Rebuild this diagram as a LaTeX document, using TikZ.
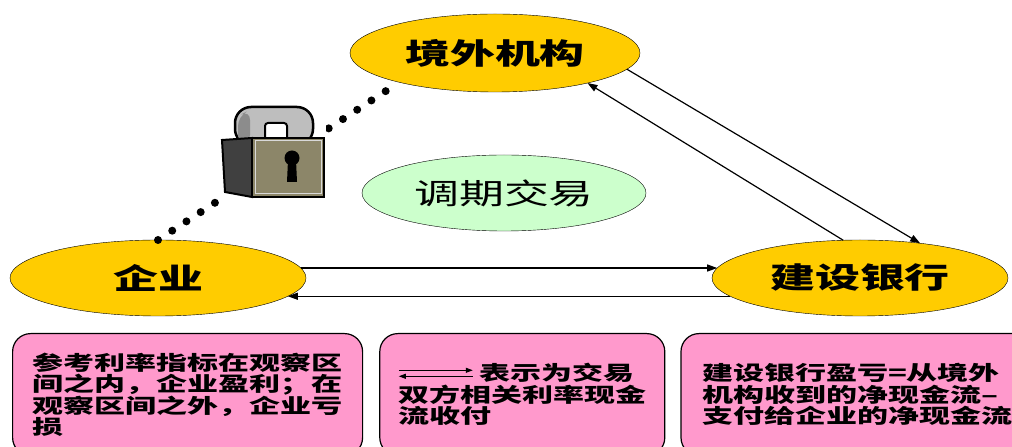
\documentclass[tikz,border=0pt]{standalone}
\usepackage{fontspec}
\newfontfamily\cjk[FakeStretch=1.55]{Noto Sans CJK SC}
\usetikzlibrary{positioning, arrows.meta, shapes.geometric}

\definecolor{gold}{HTML}{FFCC00}
\definecolor{mint}{HTML}{CCFFCC}
\definecolor{rose}{HTML}{FF99CC}
\definecolor{khaki}{HTML}{8C8669}
\definecolor{steel}{HTML}{BEBEBE}

% 双向小箭头（图例用）
\newcommand{\pairarrow}{%
  \tikz[baseline=-7.5pt, x=1pt, y=1pt, line width=1pt]{%
    \draw[-{Triangle[length=7pt,width=5pt]}] (0,3) -- (74,3);
    \draw[{Triangle[length=7pt,width=5pt]}-] (0,-3) -- (74,-3);}}

\begin{document}
\begin{tikzpicture}[
    x=1pt, y=1pt,
    party/.style={draw, ellipse, fill=gold, inner sep=0pt, outer sep=0pt,
        minimum width=296pt, minimum height=76pt,
        font=\cjk\bfseries\fontsize{29}{29}\selectfont},
    deal/.style={party, fill=mint, minimum width=284pt,
        font=\cjk\fontsize{29}{29}\selectfont},
    note/.style={draw, fill=rose, rounded corners=18pt, line width=1.2pt,
        align=left, minimum height=122pt,
        font=\cjk\bfseries\fontsize{20}{21.5}\selectfont},
    flow/.style={-{Triangle[length=10pt,width=7pt]}, line width=1.2pt},
    link/.style={line width=8pt, line cap=round, dash pattern=on 0pt off 17pt},
]
\path[use as bounding box, clip] (0,0) rectangle (1012,447);

% --- 交易各方 ---
\node[party, minimum width=290pt, minimum height=78pt] (org) at (495,394) {境外机构};
\node[deal] (swap) at (504,254) {调期交易};
\node[party] (firm) at (158,169) {企业};
\node[party, right=406pt of firm] (bank) {建设银行};

% --- 说明框 ---
\node[note, minimum width=350pt, anchor=north west] (noteA) at (12,114)
    {参考利率指标在观察区\\间之内，企业盈利；在\\观察区间之外，企业亏\\损};
\node[note, minimum width=285pt, right=16pt of noteA] (noteB)
    {\pairarrow\hspace{6pt}表示为交易\\双方相关利率现金\\流收付};
\node[note, minimum width=352pt, right=15pt of noteB] (noteC)
    {建设银行盈亏=从境外\\机构收到的净现金流–\\支付给企业的净现金流};

% --- 现金流 ---
\draw[flow] (firm.4) -- (bank.176);
\draw[flow] (bank.188) -- (firm.-8);
\draw[flow] (org.-7) -- (bank.30);
\draw[flow] (bank.114) -- (org.-18);

% 企业与境外机构之间无直接关系
\draw[link] (firm.north) -- (org.197);

% --- 锁 ---
\coordinate (lock) at (272,295);
\begin{scope}[shift={(lock)}]
  \fill[white] (-53,-48) rectangle (54,47);
  \draw[line width=2.5pt, fill=steel, rounded corners=16pt] (-37,7) rectangle (41,45);
  \fill[black!45, rounded corners=10pt] (-34,7) -- (-34,36) -- (-22,42) -- (-22,7) -- cycle;
  \draw[line width=2pt, fill=white, rounded corners=3pt] (-7,7) rectangle (15,29);
  \draw[line width=2pt, fill=black!75] (-50,12) -- (-20,14) -- (-20,-45) -- (-47,-40) -- cycle;
  \draw[line width=2pt, fill=khaki] (-20,14) rectangle (52,-45);
  \draw[line width=1pt, black!15] (-17,11) rectangle (49,-42);
  \fill (20,-6) circle (7.5);
  \fill (16,-8) -- (24,-8) -- (25,-30) -- (15,-30) -- cycle;
\end{scope}

\end{tikzpicture}
\end{document}
